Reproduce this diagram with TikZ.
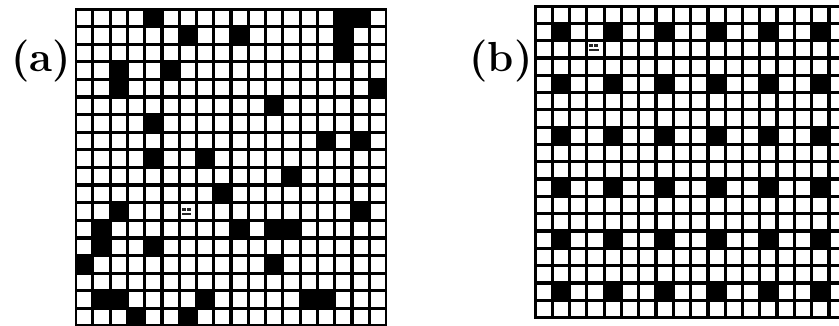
\documentclass[tikz,border=0pt]{standalone}
\usepackage{graphicx}
\begin{document}
\begin{tikzpicture}[x=1pt,y=-1pt,
  gridbg/.style={fill=black},
  whitecell/.style={fill=white},
  blackcell/.style={fill=black},
  speck/.style={fill=black!85},
  lab/.style={font=\fontsize{42}{50}\selectfont\bfseries, inner sep=0pt, anchor=base}]
\useasboundingbox (0,0) rectangle (839,326);
\fill[white] (0,0) rectangle (839,326);

% ---------- grid (a) ----------
\def\ax{75.6}\def\ay{9}\def\adx{17.27}\def\ady{17.61}
\fill[gridbg] ({\ax-1},{\ay-1}) rectangle ({\ax+18*\adx+1},{\ay+18*\ady+1});
\foreach \r in {0,...,17}{
  \foreach \c in {0,...,17}{
    \fill[whitecell] ({\ax+\c*\adx+1.6},{\ay+\r*\ady+1.6}) rectangle ({\ax+(\c+1)*\adx-1.6},{\ay+(\r+1)*\ady-1.6});
  }
}
\foreach \r/\c in {0/4,0/15,0/16,1/6,1/9,1/15,2/15,3/2,3/5,4/2,4/17,5/11,6/4,7/14,7/16,
  8/4,8/7,9/12,10/8,11/2,11/16,12/1,12/9,12/11,12/12,13/1,13/4,14/0,14/11,
  16/1,16/2,16/7,16/13,16/14,17/3,17/6}{
  \fill[blackcell] ({\ax+\c*\adx},{\ay+\r*\ady}) rectangle ++(\adx,\ady);
}
% scan speck in (a)
\fill[speck] (182,208) rectangle ++(4,3);
\fill[speck] (187,208) rectangle ++(4,3);
\fill[speck] (182,213) rectangle ++(9,2.5);

% ---------- grid (b) ----------
\def\bx{535}\def\by{6}\def\bdx{17.29}\def\bdy{17.31}
\fill[gridbg] ({\bx-1},{\by-1}) rectangle ({\bx+18*\bdx+1},{\by+18*\bdy+1});
\foreach \r in {0,...,17}{
  \foreach \c in {0,...,17}{
    \fill[whitecell] ({\bx+\c*\bdx+1.6},{\by+\r*\bdy+1.6}) rectangle ({\bx+(\c+1)*\bdx-1.6},{\by+(\r+1)*\bdy-1.6});
  }
}
\foreach \r in {1,4,...,16}{
  \foreach \c in {1,4,...,16}{
    \fill[blackcell] ({\bx+\c*\bdx},{\by+\r*\bdy}) rectangle ++(\bdx,\bdy);
  }
}
% scan speck in (b)
\fill[speck] (589,44) rectangle ++(4,3);
\fill[speck] (594,44) rectangle ++(4,3);
\fill[speck] (589,49) rectangle ++(10,2.5);

% ---------- labels ----------
\node[lab] (la) at (41,72) {(a)};
\node[lab] (lb) at (501,72) {(b)};
\end{tikzpicture}
\end{document}
